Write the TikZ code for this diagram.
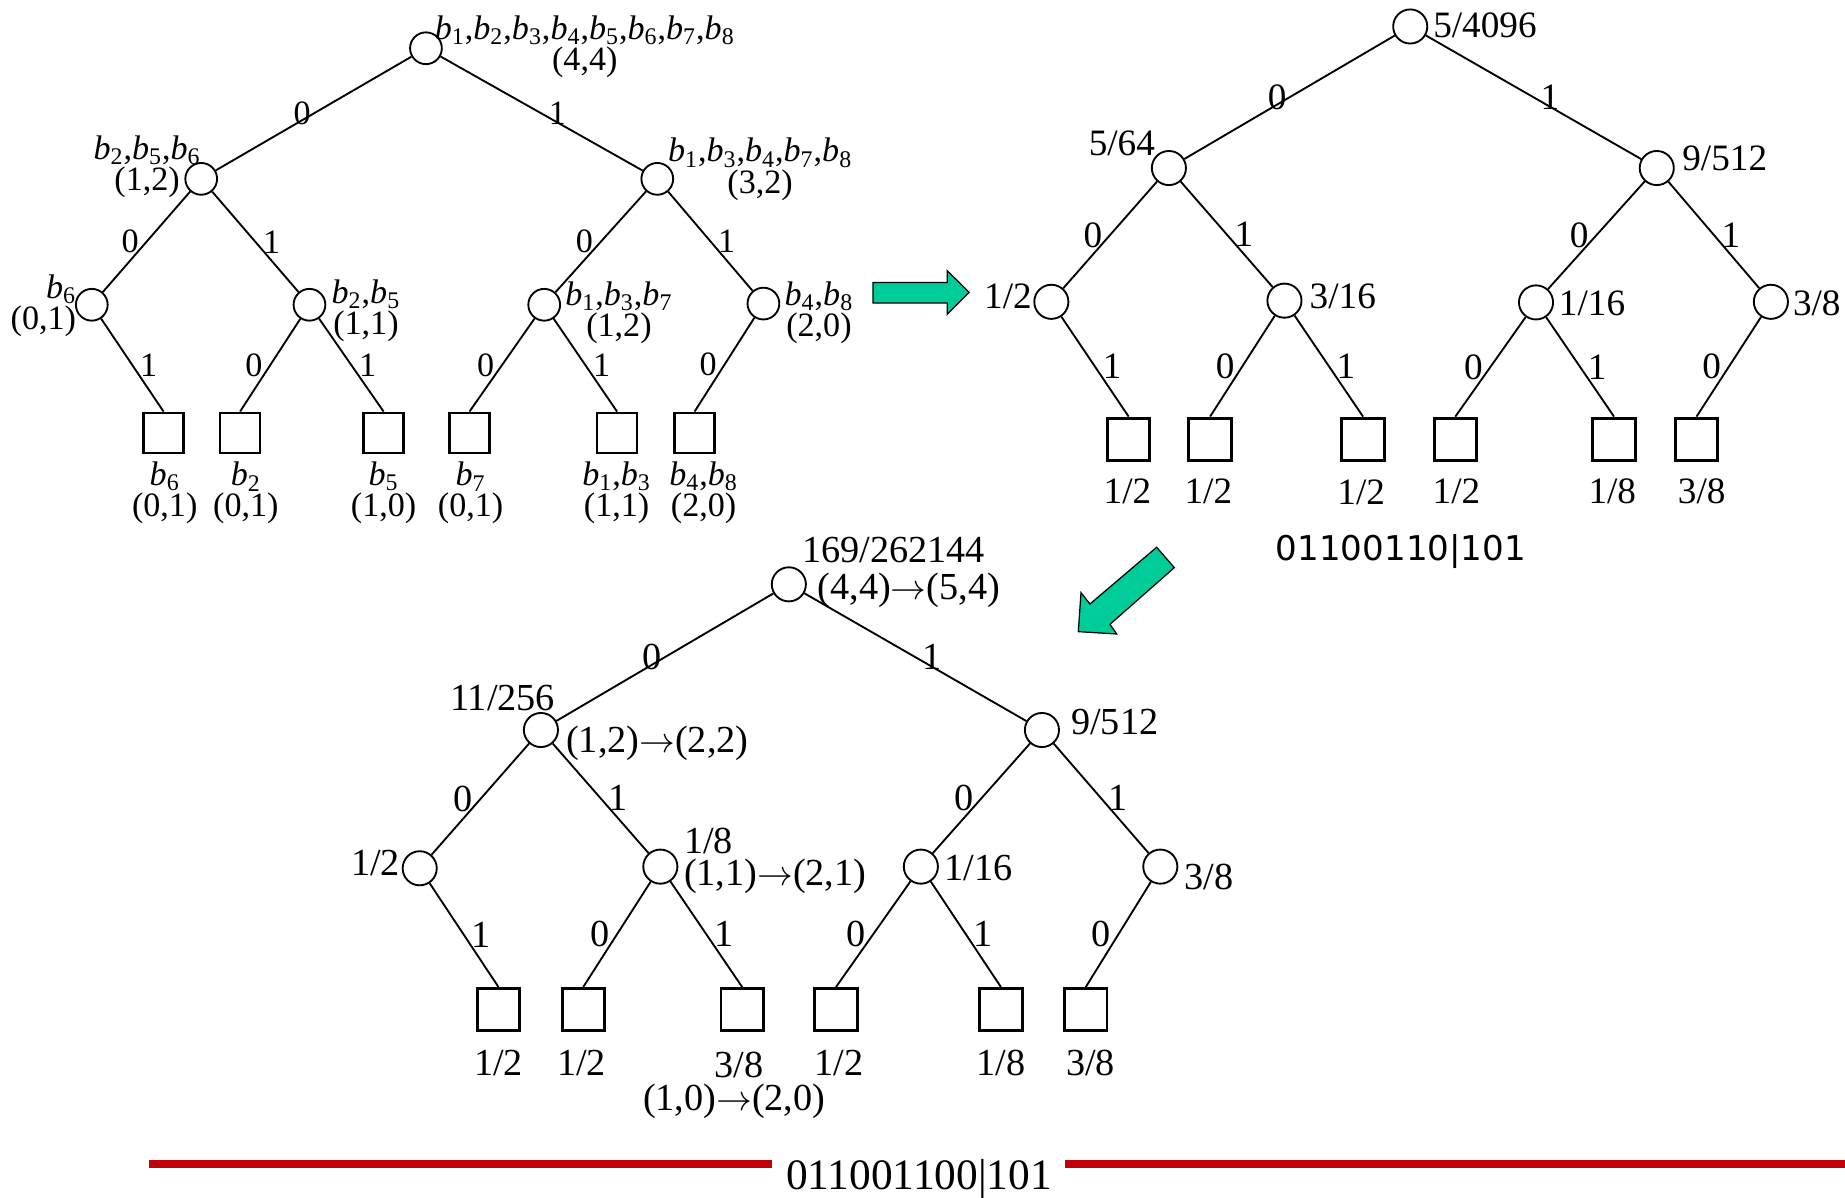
\documentclass[tikz,border=0pt]{standalone}
\usepackage{fontspec}
\setmainfont{Liberation Serif}
\newfontfamily\bitsfont{DejaVu Sans}
\usepackage{tikz}
\definecolor{arrowgreen}{RGB}{0,204,153}
\definecolor{rulered}{RGB}{192,0,8}
\newcommand{\bsub}[1]{\textit{b}\textsubscript{#1}}
\tikzset{vtx/.style={circle, draw, line width=0.9pt, minimum size=#1, inner sep=0pt}, vtx/.default=0.58cm}
\tikzset{leaf/.style={rectangle, draw, line width=1.4pt, minimum size=#1, inner sep=0pt}, leaf/.default=0.72cm}
\tikzset{branch/.style={line width=0.9pt}, lbl/.style={inner sep=0pt, align=center}}
\tikzset{fatarrow/.style={fill=arrowgreen, draw=black, line width=0.6pt, line join=miter}}

\begin{document}
\begin{tikzpicture}[x=0.02cm, y=-0.02cm]
\useasboundingbox (0,0) rectangle (1568,1018);

% tree of sets and counts
\begin{scope}[font=\fontsize{16.5}{14}\selectfont]
\node[vtx=0.54cm] (a) at (362,41) {};
\node[vtx=0.54cm] (a0) at (171,152) {}; \node[vtx=0.54cm] (a1) at (558.6,152) {};
\node[vtx=0.54cm] (a00) at (78,259) {}; \node[vtx=0.54cm] (a01) at (263,259) {};
\node[vtx=0.54cm] (a10) at (462.5,259) {}; \node[vtx=0.54cm] (a11) at (648.8,258) {};
\node[leaf=0.68cm] (a001) at (139,368) {}; \node[leaf=0.68cm] (a010) at (204,368) {};
\node[leaf=0.68cm] (a011) at (326,368) {}; \node[leaf=0.68cm] (a100) at (399,368) {};
\node[leaf=0.68cm] (a101) at (524.4,368) {}; \node[leaf=0.68cm] (a110) at (590.3,368) {};
\draw[branch] (a) -- node[left, inner sep=1pt] {0} (a0);
\draw[branch] (a) -- node[right, inner sep=3pt] {1} (a1);
\draw[branch] (a0) -- node[left] {0} (a00);
\draw[branch] (a0) -- node[right] {1} (a01);
\draw[branch] (a1) -- node[left] {0} (a10);
\draw[branch] (a1) -- node[right] {1} (a11);
\draw[branch] (a00) -- node[right] {1} (a001.north);
\draw[branch] (a01) -- node[left] {0} (a010.north);
\draw[branch] (a01) -- node[right] {1} (a011.north);
\draw[branch] (a10) -- node[left] {0} (a100.north);
\draw[branch] (a10) -- node[right] {1} (a101.north);
\draw[branch] (a11) -- node[left] {0} (a110.north);
\node[lbl] (ta) at (497,40) {\bsub{1},\bsub{2},\bsub{3},\bsub{4},\bsub{5},\bsub{6},\bsub{7},\bsub{8}\\(4,4)};
\node[lbl] (ta0) at (125,142) {\bsub{2},\bsub{5},\bsub{6}\\(1,2)};
\node[lbl] (ta1) at (646,144) {\bsub{1},\bsub{3},\bsub{4},\bsub{7},\bsub{8}\\(3,2)};
\node[lbl, align=right, anchor=east] (ta00) at (65,260) {\bsub{6}\\(0,1)};
\node[lbl] (ta01) at (311,264) {\bsub{2},\bsub{5}\\(1,1)};
\node[lbl] (ta10) at (526,266) {\bsub{1},\bsub{3},\bsub{7}\\(1,2)};
\node[lbl] (ta11) at (696,266) {\bsub{4},\bsub{8}\\(2,0)};
\node[lbl] (ta001) at (140,419) {\bsub{6}\\(0,1)};
\node[lbl] (ta010) at (209,419) {\bsub{2}\\(0,1)};
\node[lbl] (ta011) at (326,419) {\bsub{5}\\(1,0)};
\node[lbl] (ta100) at (400,419) {\bsub{7}\\(0,1)};
\node[lbl] (ta101) at (524,419) {\bsub{1},\bsub{3}\\(1,1)};
\node[lbl] (ta110) at (598,419) {\bsub{4},\bsub{8}\\(2,0)};
\end{scope}

% tree of probabilities
\begin{scope}[font=\fontsize{18}{20}\selectfont]
\node[vtx] (b) at (1198.5,22.5) {};
\node[vtx] (b0) at (993.4,142.8) {}; \node[vtx] (b1) at (1408,142.8) {};
\node[vtx] (b00) at (893.5,256.5) {}; \node[vtx] (b01) at (1091.6,255.5) {};
\node[vtx] (b10) at (1305.4,257) {}; \node[vtx] (b11) at (1505,256.5) {};
\node[leaf] (b001) at (959.2,373.3) {}; \node[leaf] (b010) at (1028.4,373.3) {};
\node[leaf] (b011) at (1158.4,373.3) {}; \node[leaf] (b100) at (1236.8,373.3) {};
\node[leaf] (b101) at (1371.7,373.3) {}; \node[leaf] (b110) at (1441.8,373.3) {};
\draw[branch] (b) -- node[left, inner sep=1pt] {0} (b0);
\draw[branch] (b) -- node[right, inner sep=3pt] {1} (b1);
\draw[branch] (b0) -- node[left] {0} (b00);
\draw[branch] (b0) -- node[right] {1} (b01);
\draw[branch] (b1) -- node[left] {0} (b10);
\draw[branch] (b1) -- node[right] {1} (b11);
\draw[branch] (b00) -- node[right] {1} (b001.north);
\draw[branch] (b01) -- node[left] {0} (b010.north);
\draw[branch] (b01) -- node[right] {1} (b011.north);
\draw[branch] (b10) -- node[left] {0} (b100.north);
\draw[branch] (b10) -- node[right] {1} (b101.north);
\draw[branch] (b11) -- node[left] {0} (b110.north);
\node[lbl] (tb) at (1262,21.6) {5/4096};
\node[lbl] (tb0) at (953.4,122) {5/64};
\node[lbl] (tb1) at (1465.8,134.4) {9/512};
\node[lbl] (tb00) at (856.6,251.9) {1/2};
\node[lbl] (tb01) at (1141.2,251.9) {3/16};
\node[lbl] (tb10) at (1353,258) {1/16};
\node[lbl] (tb11) at (1544,258) {3/8};
\node[lbl] (tb001) at (958.2,417.2) {1/2};
\node[lbl] (tb010) at (1026.9,417.2) {1/2};
\node[lbl] (tb011) at (1156.8,418.5) {1/2};
\node[lbl] (tb100) at (1237.8,417.2) {1/2};
\node[lbl] (tb101) at (1370.2,417.2) {1/8};
\node[lbl] (tb110) at (1446.2,417.2) {3/8};
\node[lbl, font=\bitsfont\fontsize{16.5}{18}\selectfont] (bits2) at (1190.6,468.8) {01100110|101};
\end{scope}

% updated tree
\begin{scope}[font=\fontsize{18.5}{20}\selectfont]
\node[vtx] (c) at (670.4,496.6) {};
\node[vtx] (c0) at (459.7,620.4) {}; \node[vtx] (c1) at (885.5,620.4) {};
\node[vtx] (c00) at (356.7,737.9) {}; \node[vtx] (c01) at (561.2,736.5) {};
\node[vtx] (c10) at (782.6,736.5) {}; \node[vtx] (c11) at (986.1,736.5) {};
\node[leaf] (c001) at (423.6,858) {}; \node[leaf] (c010) at (495.7,858) {};
\node[leaf] (c011) at (630.7,858) {}; \node[leaf] (c100) at (710.5,858) {};
\node[leaf] (c101) at (850.6,858) {}; \node[leaf] (c110) at (922.8,858) {};
\draw[branch] (c) -- node[left, inner sep=1pt] {0} (c0);
\draw[branch] (c) -- node[right, inner sep=3pt] {1} (c1);
\draw[branch] (c0) -- node[left] {0} (c00);
\draw[branch] (c0) -- node[right] {1} (c01);
\draw[branch] (c1) -- node[left] {0} (c10);
\draw[branch] (c1) -- node[right] {1} (c11);
\draw[branch] (c00) -- node[right] {1} (c001.north);
\draw[branch] (c01) -- node[left] {0} (c010.north);
\draw[branch] (c01) -- node[right] {1} (c011.north);
\draw[branch] (c10) -- node[left] {0} (c100.north);
\draw[branch] (c10) -- node[right] {1} (c101.north);
\draw[branch] (c11) -- node[left] {0} (c110.north);
\node[lbl] (tc) at (759.4,467.4) {169/262144};
\node[lbl] (tcx) at (772.3,501.4) {(4,4)$\rightarrow$(5,4)};
\node[lbl] (tc0) at (427.2,593.5) {11/256};
\node[lbl] (tc0x) at (558.6,631.7) {(1,2)$\rightarrow$(2,2)};
\node[lbl] (tc1) at (947.4,613.3) {9/512};
\node[lbl] (tc00) at (319.1,733.7) {1/2};
\node[lbl, anchor=west] (tc01) at (581,715) {1/8};
\node[lbl, anchor=west] (tc01x) at (581,745) {(1,1)$\rightarrow$(2,1)};
\node[lbl] (tc10) at (831.6,737.9) {1/16};
\node[lbl] (tc11) at (1027.3,745) {3/8};
\node[lbl] (tc001) at (423.6,903.7) {1/2};
\node[lbl] (tc010) at (494.2,903.7) {1/2};
\node[lbl] (tc011) at (628,905) {3/8};
\node[lbl] (tc011x) at (624,936.2) {(1,0)$\rightarrow$(2,0)};
\node[lbl] (tc100) at (713,903.7) {1/2};
\node[lbl] (tc101) at (850.6,903.7) {1/8};
\node[lbl] (tc110) at (926.8,903.7) {3/8};
\end{scope}

% green arrows
\draw[fatarrow] (742,240) -- (805,240) -- (805,230) -- (823.6,248.5) -- (805,267) -- (805,257.6) -- (742,257.6) -- cycle;
\draw[fatarrow] (983,465.1) -- (926.3,513.3) -- (918.7,503.7) -- (916.4,536.8) -- (949,538.8) -- (943.3,530.6) -- (998,482.4) -- cycle;

% red rule with final code
\node[lbl, anchor=base, font=\fontsize{21}{24}\selectfont] (bits3) at (781,1011) {011001100|101};
\fill[rulered] (127,985.8) rectangle (656,992.3);
\fill[rulered] (905,985.8) rectangle (1568,992.3);
\end{tikzpicture}
\end{document}
